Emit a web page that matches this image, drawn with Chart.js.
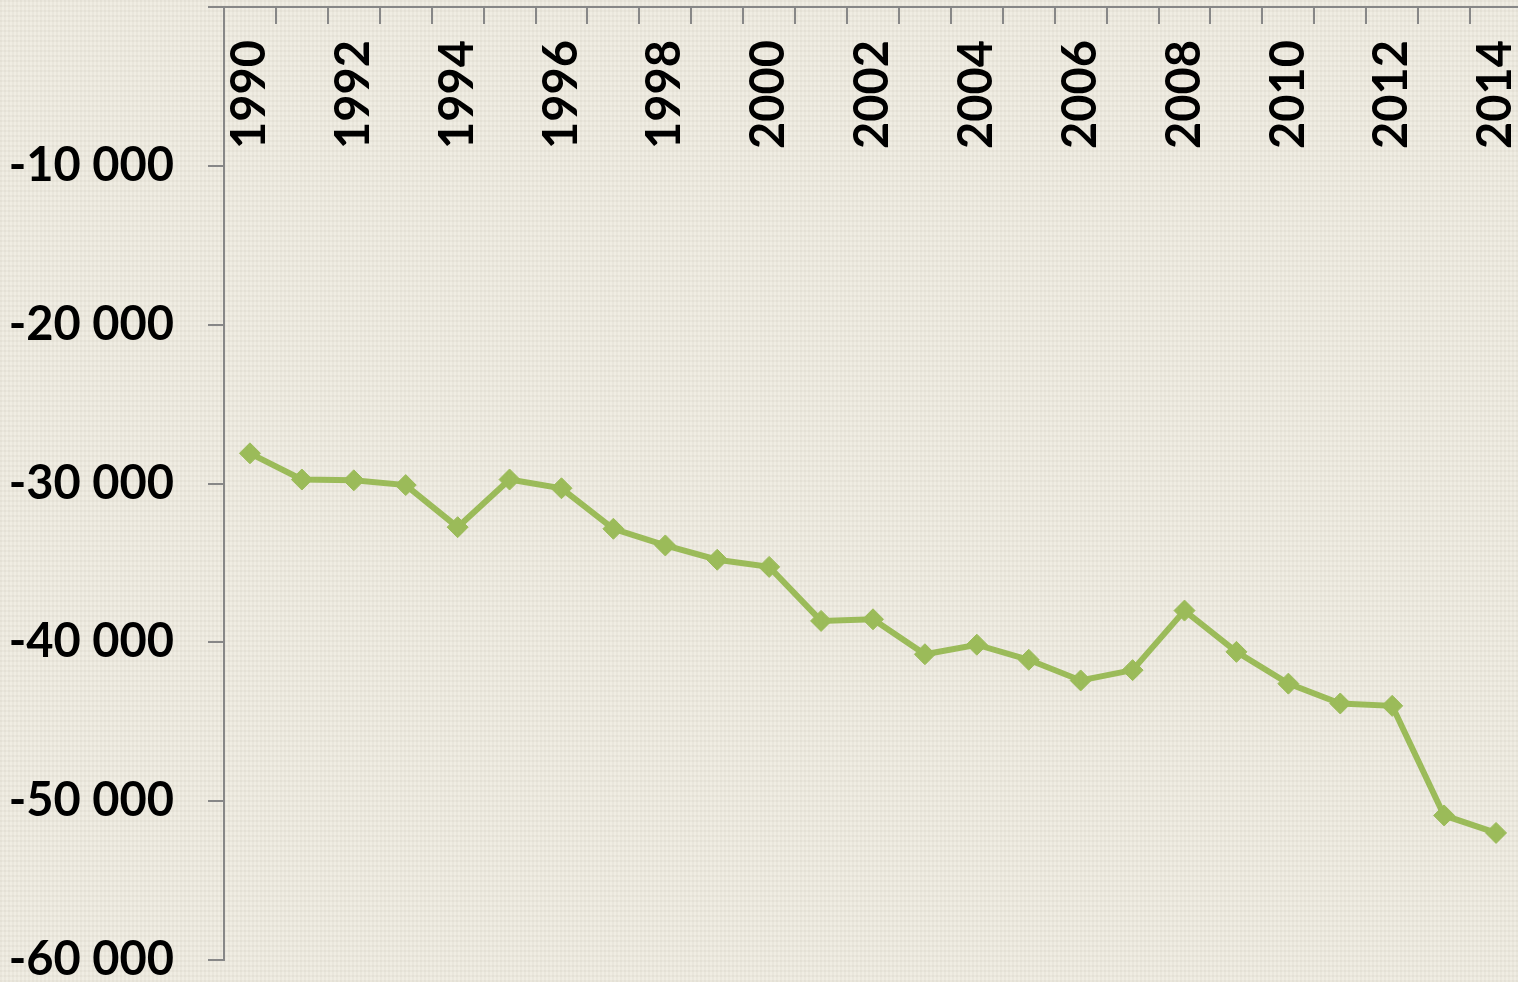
<!DOCTYPE html>
<html>
<head>
<meta charset="utf-8">
<title>Balance 1990-2014</title>
<script src="https://cdn.jsdelivr.net/npm/chart.js@4.4.0/dist/chart.umd.min.js"></script>
<style>
    html, body {
        margin: 0;
        padding: 0;
        overflow: hidden;
    }
    body {
        width: 1518px;
        height: 982px;
        background-color: #f0ede3;
        background-image:
            repeating-linear-gradient(0deg, rgba(120, 110, 90, 0.05) 0 2px, transparent 2px 5px),
            repeating-linear-gradient(90deg, rgba(120, 110, 90, 0.05) 0 2px, transparent 2px 4px);
    }
    #wrap {
        position: relative;
        width: 1522px;
        height: 982px;
    }
</style>
</head>
<body>
<div id="wrap"><canvas id="balanceChart"></canvas></div>
<script>
// years on the category axis
const years = ["1990", "1991", "1992", "1993", "1994", "1995", "1996", "1997", "1998", "1999",
    "2000", "2001", "2002", "2003", "2004", "2005", "2006", "2007", "2008", "2009",
    "2010", "2011", "2012", "2013", "2014"];

// values
const balance = [-28100, -29750, -29800, -30100, -32750, -29750, -30300, -32850, -33900, -34800,
    -35250, -38650, -38550, -40750, -40150, -41100, -42400, -41750, -38000, -40600,
    -42600, -43850, -44000, -50900, -52000];

// value axis ticks
const yTickValues = [-60000, -50000, -40000, -30000, -20000, -10000, 0];
const yTickLabels = ["-60 000", "-50 000", "-40 000", "-30 000", "-20 000", "-10 000", ""];

const axisGray = "#878787";
const labelFont = { family: "Lato", weight: "bold", size: 47, lineHeight: 1 };

document.addEventListener("DOMContentLoaded", function () {
    new Chart(document.getElementById("balanceChart"), {
        type: "line",
        data: {
            labels: years,
            datasets: [{
                data: balance,
                borderColor: "#9bbb59",
                backgroundColor: "#9bbb59",
                borderWidth: 6,
                pointStyle: "rectRot",
                pointRadius: 10.5,
                pointBorderWidth: 1,
                pointBorderColor: "#9bbb59",
                tension: 0
            }]
        },
        options: {
            responsive: true,
            maintainAspectRatio: false,
            animation: false,
            layout: {
                autoPadding: false,
                padding: { top: 7, right: 0, bottom: 22, left: 0 }
            },
            plugins: {
                legend: { display: false },
                tooltip: { enabled: false }
            },
            scales: {
                x: {
                    type: "category",
                    position: { y: 0 },
                    offset: true,
                    grid: {
                        offset: true,
                        drawOnChartArea: false,
                        tickLength: 16,
                        color: axisGray,
                        lineWidth: 2
                    },
                    border: { color: axisGray, width: 2 },
                    ticks: {
                        autoSkip: false,
                        minRotation: 90,
                        maxRotation: 90,
                        padding: 17,
                        color: "#000",
                        font: labelFont,
                        callback: function (v, i) { return i % 2 === 0 ? years[i] : ""; }
                    },
                    afterFit: function (s) {
                        s.paddingLeft = 0; s.paddingRight = 0;
                        s.paddingTop = 0; s.paddingBottom = 0;
                    }
                },
                y: {
                    min: -60000,
                    max: 0,
                    afterBuildTicks: function (s) {
                        s.ticks = yTickValues.map(function (v) { return { value: v }; });
                    },
                    grid: {
                        drawOnChartArea: false,
                        tickLength: 16,
                        color: axisGray,
                        lineWidth: 2
                    },
                    border: { color: axisGray, width: 2 },
                    ticks: {
                        padding: 34,
                        color: "#000",
                        font: labelFont,
                        callback: function (v) { return yTickLabels[yTickValues.indexOf(v)]; }
                    },
                    afterFit: function (s) {
                        s.width = 224;
                        s.paddingTop = 0; s.paddingBottom = 0;
                    }
                }
            }
        }
    });
});
</script>
</body>
</html>
